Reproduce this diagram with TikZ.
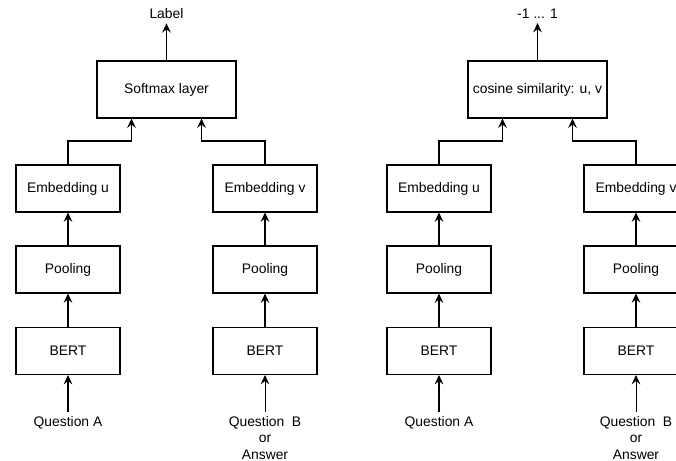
\documentclass[tikz,border=0pt]{standalone}
\usepackage{fontspec}
\setmainfont{Liberation Sans}
\usetikzlibrary{arrows.meta,calc}

\tikzset{
  box/.style={draw=black, line width=0.8pt, minimum width=78pt, minimum height=35.25pt, inner sep=0pt},
  topbox/.style={box, minimum width=104.25pt, minimum height=42.75pt},
  txt/.style={inner sep=3pt, align=center},
  arr/.style={-{Stealth[length=7pt,width=6.5pt,inset=2.5pt]}, line width=0.8pt},
}

\begin{document}
\begin{tikzpicture}[x=0.75pt, y=-0.75pt, font=\fontsize{10.4pt}{12.4pt}\selectfont]
    % frame
    \useasboundingbox (0,0) rectangle (676,461);
    \clip (0,0) rectangle (676,461);

    % left: softmax classifier
    \node[topbox] (lsoft) at (166.5,89.5) {Softmax layer};
    \node[txt] (llab) at (166.5,14) {Label};
    \node[box] (lembu) at (68,188.5) {Embedding u};
    \node[box] (lembv) at (265,188.5) {Embedding v};
    \node[box] (lpoolu) at (68,269.5) {Pooling};
    \node[box] (lpoolv) at (265,269.5) {Pooling};
    \node[box] (lbertu) at (68,351) {BERT};
    \node[box] (lbertv) at (265,351) {BERT};
    \node[txt, anchor=north] (lqa) at (68,412) {Question A};
    \node[txt, anchor=north] (lqb) at (265,412) {Question\ \ B\\or\\Answer};

    \coordinate (linu) at ($(lsoft.south west)!0.5!(lsoft.south)$);
    \coordinate (linv) at ($(lsoft.south east)!0.5!(lsoft.south)$);

    \draw[arr] (lsoft.north) -- (llab.south);
    \draw[arr] (lembu.north) -- ++(0,-23.5) -| (linu);
    \draw[arr] (lembv.north) -- ++(0,-23.5) -| (linv);
    \draw[arr] (lpoolu.north) -- (lembu.south);
    \draw[arr] (lpoolv.north) -- (lembv.south);
    \draw[arr] (lbertu.north) -- (lpoolu.south);
    \draw[arr] (lbertv.north) -- (lpoolv.south);
    \draw[arr] (lqa.north) -- (lbertu.south);
    \draw[arr, line width=0.5pt] (lqb.north) -- (lbertv.south);

    % right: cosine similarity
    \node[topbox] (rcos) at (537.5,89.5) {cosine similarity: u, v};
    \node[txt] (rlab) at (537.5,14) {-1 ... 1};
    \node[box] (rembu) at (439,188.5) {Embedding u};
    \node[box] (rembv) at (636,188.5) {Embedding v};
    \node[box] (rpoolu) at (439,269.5) {Pooling};
    \node[box] (rpoolv) at (636,269.5) {Pooling};
    \node[box] (rbertu) at (439,351) {BERT};
    \node[box] (rbertv) at (636,351) {BERT};
    \node[txt, anchor=north] (rqa) at (439,412) {Question A};
    \node[txt, anchor=north] (rqb) at (636,412) {Question\ \ B\\or\\Answer};

    \coordinate (rinu) at ($(rcos.south west)!0.5!(rcos.south)$);
    \coordinate (rinv) at ($(rcos.south east)!0.5!(rcos.south)$);

    \draw[arr] (rcos.north) -- (rlab.south);
    \draw[arr] (rembu.north) -- ++(0,-23.5) -| (rinu);
    \draw[arr] (rembv.north) -- ++(0,-23.5) -| (rinv);
    \draw[arr] (rpoolu.north) -- (rembu.south);
    \draw[arr] (rpoolv.north) -- (rembv.south);
    \draw[arr] (rbertu.north) -- (rpoolu.south);
    \draw[arr] (rbertv.north) -- (rpoolv.south);
    \draw[arr] (rqa.north) -- (rbertu.south);
    \draw[arr, line width=0.5pt] (rqb.north) -- (rbertv.south);
\end{tikzpicture}
\end{document}
